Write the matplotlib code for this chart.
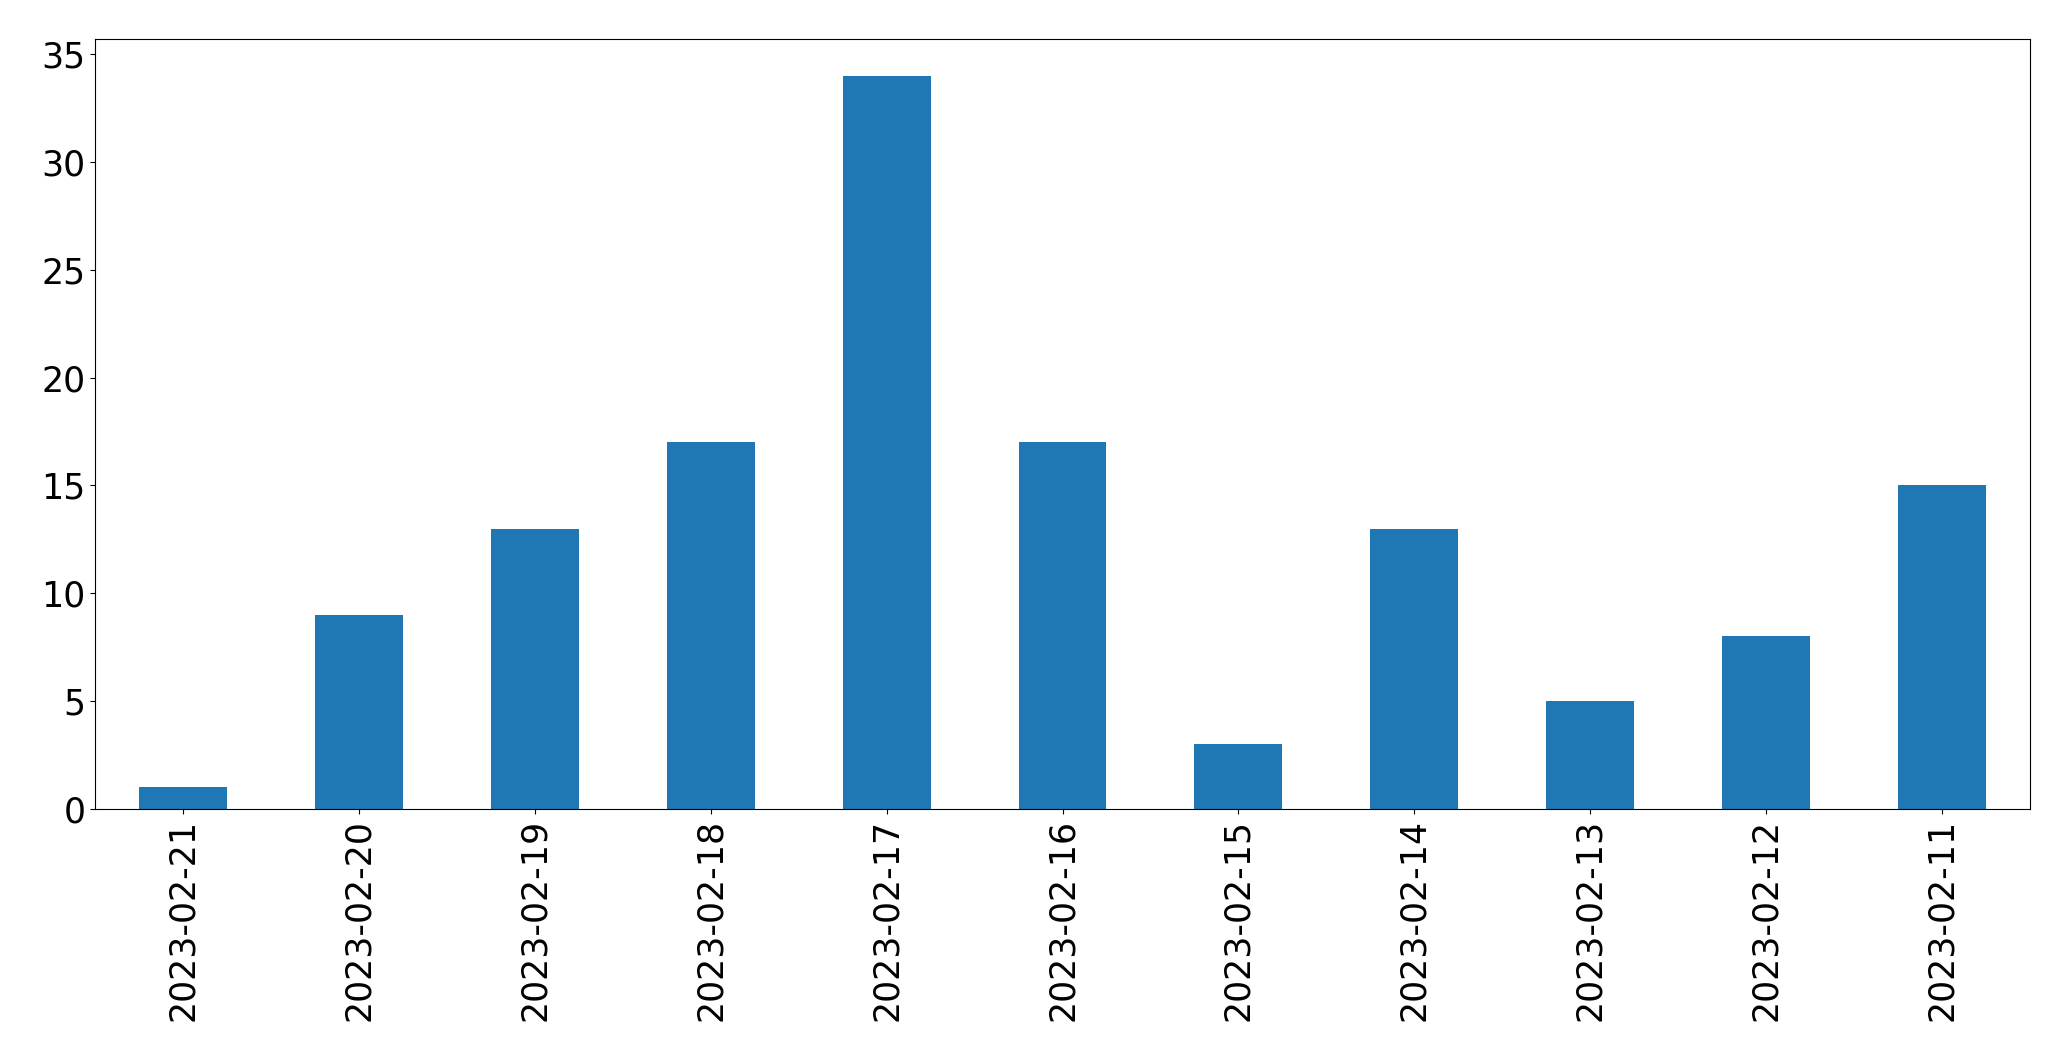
import matplotlib
matplotlib.use("Agg")
import matplotlib.pyplot as plt
import numpy as np

# -------- data --------
dates = ["2023-02-21", "2023-02-20", "2023-02-19", "2023-02-18", "2023-02-17",
         "2023-02-16", "2023-02-15", "2023-02-14", "2023-02-13", "2023-02-12",
         "2023-02-11"]
counts = [1, 9, 13, 17, 34, 17, 3, 13, 5, 8, 15]

fig = plt.figure(figsize=(20.71, 10.61), dpi=100)
ax = fig.add_axes([95/2071, 1 - 809/1061, (2030 - 95)/2071, (809 - 39)/1061])

x = np.arange(len(dates))
ax.bar(x, counts, width=0.5, color="#1f77b4")
ax.set_xlim(-0.5, len(dates) - 0.5)
ax.set_ylim(0, max(counts) * 1.05)
ax.set_xticks(x)
ax.set_xticklabels(dates, rotation=90)
ax.set_yticks(range(0, 36, 5))
ax.tick_params(labelsize=25)

fig.savefig("out.png", dpi=100)
